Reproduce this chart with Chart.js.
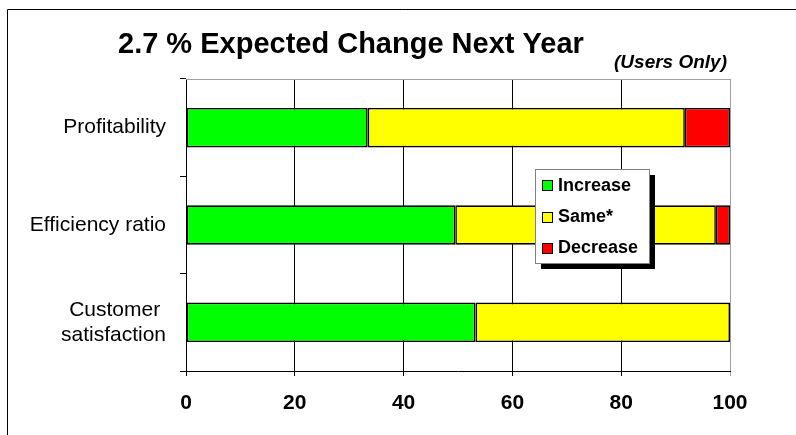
<!DOCTYPE html>
<html>
<head>
<meta charset="utf-8">
<script src="https://cdn.jsdelivr.net/npm/chart.js@4"></script>
<style>
  html, body { margin: 0; padding: 0; background: #fff; }
  canvas { display: block; }
</style>
</head>
<body>
<canvas id="c" width="796" height="435"></canvas>
<script>
// ---- data ----
const categories = ['Profitability', 'Efficiency ratio', ['Customer\u00a0', 'satisfaction']];
const seriesNames = ['Increase', 'Same*', 'Decrease'];
const increase = [33.4, 49.5, 53.2];
const same = [58.3, 47.9, 46.8];
const decrease = [8.3, 2.6, 0];
const xTickMin = 0;
const xTickMax = 100;
const xTickStep = 20;
const titleText = '2.7 % Expected Change Next Year';
const subtitleText = '(Users Only)';

const colors = ['#00ff00', '#ffff00', '#ff0000'];
const FONT = '"Liberation Sans", Arial, Helvetica, sans-serif';

const decorPlugin = {
  id: 'decor',
  beforeDraw(chart) {
    const c = chart.ctx;
    c.save();
    c.fillStyle = '#fff';
    c.fillRect(0, 0, chart.width, chart.height);
    c.restore();
  },
  afterDraw(chart) {
    const c = chart.ctx;
    const a = chart.chartArea;
    c.save();
    // outer frame (left and top visible)
    c.strokeStyle = '#000';
    c.lineWidth = 1;
    c.beginPath();
    c.moveTo(7.5, chart.height + 5);
    c.lineTo(7.5, 9.5);
    c.lineTo(chart.width + 5, 9.5);
    c.stroke();
    // plot top border
    c.strokeStyle = '#a0a0a0';
    c.beginPath();
    c.moveTo(a.left, a.top + 0.5);
    c.lineTo(a.right, a.top + 0.5);
    c.stroke();
    // title
    c.fillStyle = '#000';
    c.textBaseline = 'alphabetic';
    c.textAlign = 'left';
    c.font = 'bold 29px ' + FONT;
    c.fillText(titleText, 118, 53);
    c.textAlign = 'right';
    c.font = 'italic bold 19px ' + FONT;
    c.fillText(subtitleText, 727, 68);
    // legend
    const lx = 535, ly = 169, lw = 114, lh = 94;
    c.fillStyle = '#000';
    c.fillRect(lx + 6, ly + 6, lw, lh);
    c.fillStyle = '#fff';
    c.fillRect(lx, ly, lw, lh);
    c.strokeStyle = '#808080';
    c.strokeRect(lx + 0.5, ly + 0.5, lw, lh);
    const rowsY = [185, 216.5, 247.5];
    c.font = 'bold 18px ' + FONT;
    c.textAlign = 'left';
    c.textBaseline = 'middle';
    chart.data.datasets.forEach((ds, i) => {
      const y = rowsY[i];
      c.fillStyle = ds.backgroundColor;
      c.fillRect(542, Math.round(y - 5), 10, 10);
      c.strokeStyle = '#000';
      c.strokeRect(542.5, Math.round(y - 5) + 0.5, 10, 10);
      c.fillStyle = '#000';
      c.fillText(ds.label, 558, y + 1);
    });
    c.restore();
  }
};

const datasets = [increase, same, decrease].map((vals, i) => ({
  label: seriesNames[i],
  data: vals,
  backgroundColor: colors[i],
  borderColor: '#000',
  borderWidth: 1.6,
  borderSkipped: false,
  categoryPercentage: 1.0,
  barPercentage: 0.405
}));

new Chart(document.getElementById('c'), {
  type: 'bar',
  data: { labels: categories, datasets },
  options: {
    indexAxis: 'y',
    responsive: false,
    animation: false,
    layout: { padding: { top: 79, right: 66, bottom: 0, left: 0 } },
    plugins: {
      legend: { display: false },
      title: { display: false },
      tooltip: { enabled: false }
    },
    scales: {
      x: {
        stacked: true,
        min: xTickMin,
        max: xTickMax,
        ticks: {
          stepSize: xTickStep,
          color: '#000',
          font: { family: FONT, size: 21, weight: 'bold' },
          padding: 15,
          maxRotation: 0
        },
        grid: {
          color: (ctx) => (ctx.tick && ctx.tick.value === 100 ? '#a0a0a0' : '#000'),
          lineWidth: 1,
          tickLength: 5,
          drawTicks: true
        },
        border: { color: '#000', width: 1 },
        afterFit(scale) { scale.height = 64; }
      },
      y: {
        stacked: true,
        ticks: {
          color: '#000',
          font: { family: FONT, size: 21 },
          lineHeight: 1.24,
          padding: 14
        },
        grid: {
          offset: true,
          drawOnChartArea: false,
          drawTicks: true,
          tickLength: 6,
          color: '#000'
        },
        border: { color: '#000', width: 1 },
        afterFit(scale) { scale.width = 186; }
      }
    }
  },
  plugins: [decorPlugin]
});
</script>
</body>
</html>
